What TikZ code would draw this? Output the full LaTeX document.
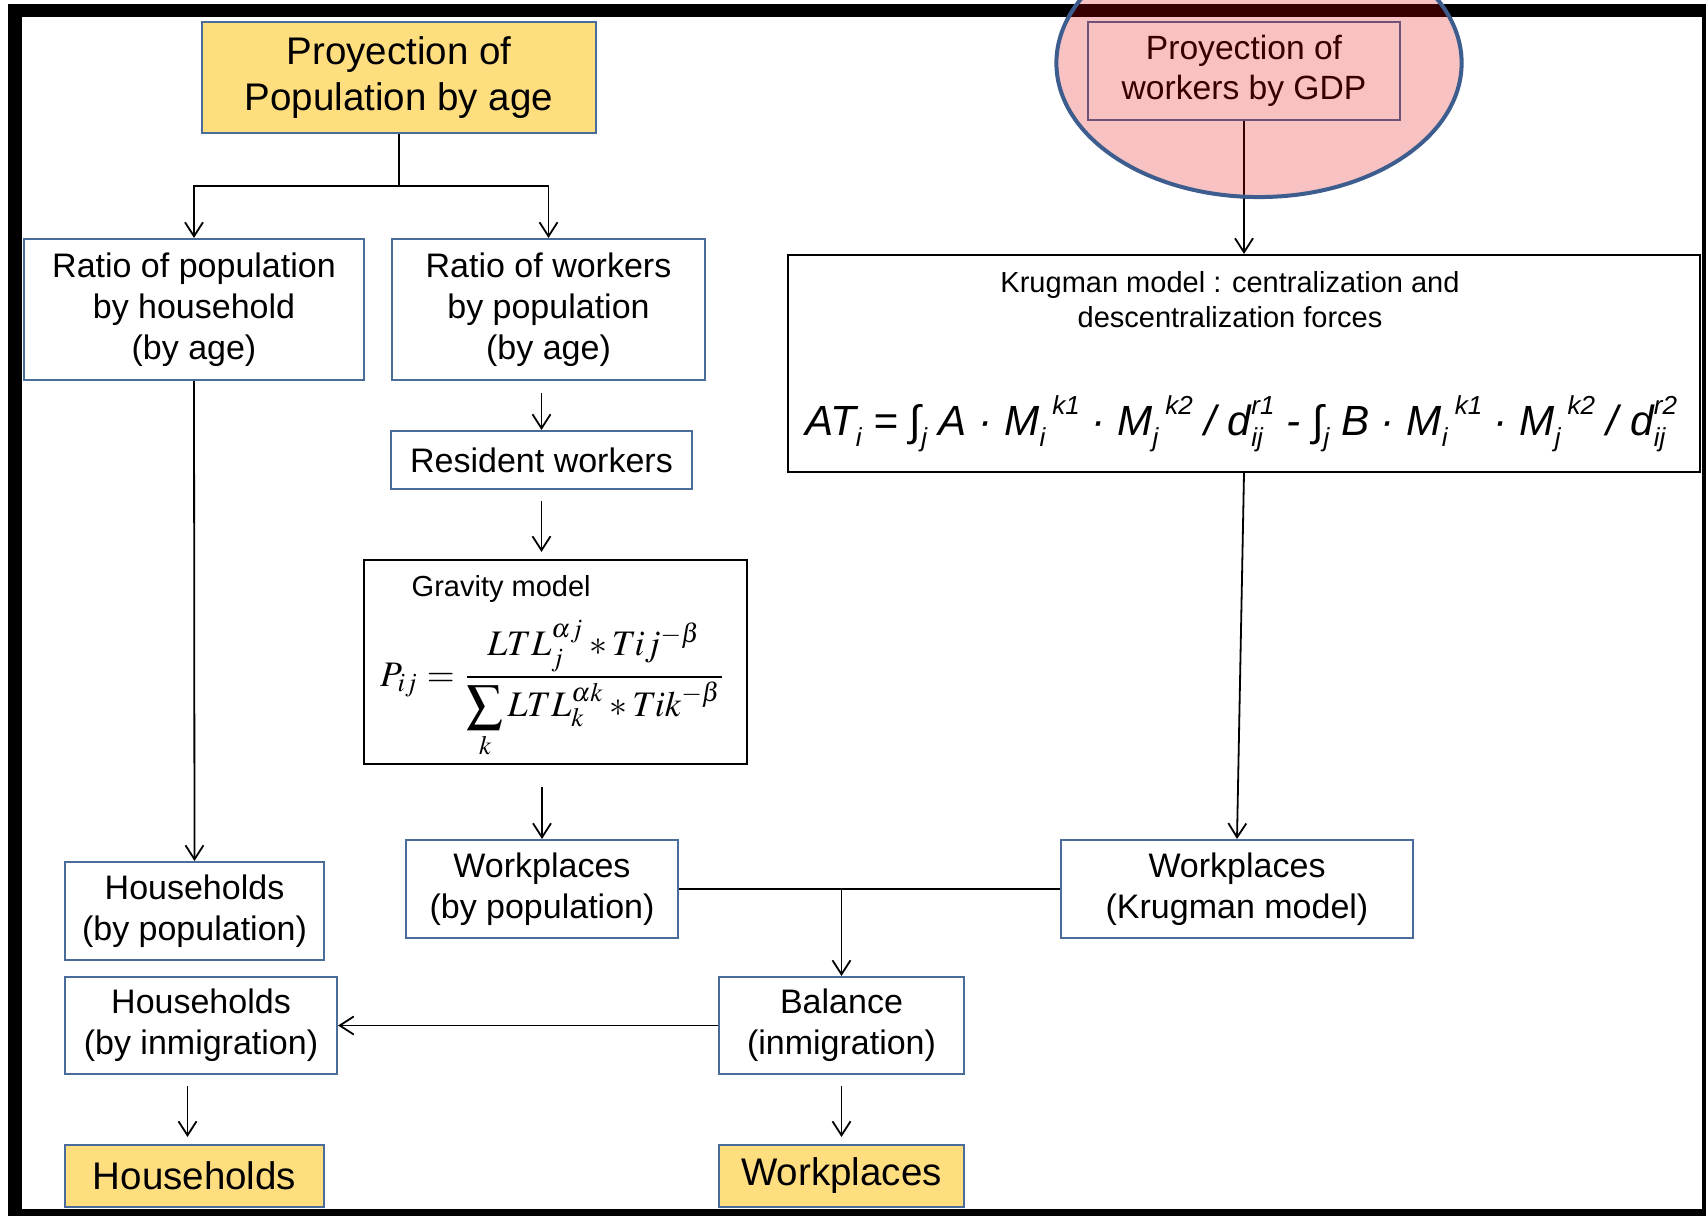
\documentclass[tikz,border=0pt]{standalone}
\usepackage{mathptmx}
\usepackage[no-math]{fontspec}
\setmainfont{Liberation Sans}
\usetikzlibrary{positioning,arrows.meta,shapes.geometric}
\definecolor{boxblue}{HTML}{4A6C9B}
\definecolor{ringblue}{HTML}{3C5D8E}
\definecolor{hlyellow}{HTML}{FFDE80}
\newcommand\ssub[1]{\raisebox{-0.25em}{\fontsize{7.4}{8}\selectfont #1}}
\newcommand\ssup[1]{\raisebox{0.5em}{\fontsize{7.4}{8}\selectfont #1}}
\newcommand\ssubsup[2]{\rlap{\ssub{#1}}\ssup{#2}}
\tikzset{
  dim/.style 2 args = {minimum width=#1mm, minimum height=#2mm},
  box/.style        = {draw=boxblue, line width=0.2mm, fill=white, align=center,
                       inner sep=0pt, font=\fontsize{9.67}{11.67}\selectfont},
  hl/.style         = {box, fill=hlyellow, font=\fontsize{10.95}{13.1}\selectfont},
  model/.style      = {draw=black, line width=0.2mm, inner sep=0pt},
  note/.style       = {inner sep=0pt, align=center, font=\fontsize{8.25}{9.9}\selectfont},
  ring/.style       = {ellipse, draw=ringblue, line width=0.4mm, inner sep=0pt,
                       fill=red!90!black, fill opacity=0.24},
  link/.style       = {line width=0.18mm},
  edge/.style       = {link, -{Straight Barb[length=1.4mm,width=1.8mm]}},
  frame/.style      = {draw=black, line width=1.34mm}
}

\begin{document}
\begin{tikzpicture}[x={(0.01cm,0)}, y={(0,-0.01cm)}]
  \useasboundingbox (0,0) rectangle (1706,1216);
  \clip (0,0) rectangle (1706,1216);
  \fill[white] (0,0) rectangle (1706,1216);
  \draw[frame] (15,10.7) rectangle (1708.7,1215.7);

  % left and middle columns
  \node[hl, dim={39.4}{11.1}]  (popage)    at (399,77.5)   {Proyection of\\Population by age};
  \node[box, dim={34}{14.1}]   (ratiopop)  at (194,309.5)  {Ratio of population\\by household\\(by age)};
  \node[box, dim={31.3}{14.1}] (ratiowork) at (548.5,309.5) {Ratio of workers\\by population\\(by age)};
  \node[box, dim={30.1}{5.8}]  (resident)  at (541.5,460)  {Resident workers};
  \node[model, dim={38.3}{20.4}] (gravity) at (555.5,662)  {};
  \node[note, anchor=west]     (gravtitle) at (411,589)    {Gravity model};
  \node[inner sep=0pt, anchor=base, font=\fontsize{10.2}{12}\selectfont] (gravform) at (553,686)
    {$\displaystyle P_{ij}=\frac{LTL_j^{\alpha j}*Tij^{-\beta}}{\displaystyle\sum_k LTL_k^{\alpha k}*Tik^{-\beta}}$};
  \node[box, dim={27.2}{9.8}]  (wpop)      at (542,889)    {Workplaces\\(by population)};
  \node[box, dim={25.9}{9.8}]  (hhpop)     at (194.5,911)  {Households\\(by population)};
  \node[box, dim={27.2}{9.7}]  (hhinm)     at (201,1025.5) {Households\\(by inmigration)};
  \node[hl, dim={25.9}{6.2}]   (hhfin)     at (194.5,1176) {Households};
  \node[box, dim={24.5}{9.7}]  (balance)   at (841.5,1025.5) {Balance\\(inmigration)};
  \node[hl, dim={24.5}{6.2}]   (wpfin)     at (841.5,1176) {Workplaces};

  % right column
  \node[model, dim={91.2}{21.7}] (krugman) at (1244,363.5) {};
  \node[note] (krugtitle) at (1230,300) {Krugman model : centralization and\\descentralization forces};
  \node[inner sep=0pt, font=\itshape\fontsize{12}{14}\selectfont] (krugform) at (1241,424)
    {AT\ssub{i} = ∫\ssub{j} A · M\ssub{i}\,\ssup{k1} · M\ssub{j}\,\ssup{k2} / d\ssubsup{ij}{r1} - ∫\ssub{j} B · M\ssub{i}\,\ssup{k1} · M\ssub{j}\,\ssup{k2} / d\ssubsup{ij}{r2}};
  \node[box, dim={35.2}{9.8}]  (wkrug)     at (1237,889)   {Workplaces\\(Krugman model)};
  \node[box, fill=none, dim={31.2}{9.8}, font=\fontsize{9.56}{11.4}\selectfont] (gdp) at (1244,71)
    {Proyection of\\workers by GDP};

  \coordinate (split) at (399,186);
  \coordinate (hhin) at ([xshift=-0.7mm]hhfin.north);

  \draw[link] (popage.south) -- (split);
  \draw[edge] (split) -| (ratiopop.north);
  \draw[edge] (split) -| (ratiowork.north);
  \draw[edge, shorten <=1.2mm] (ratiowork.south -| resident.north) -- (resident.north);
  \draw[edge, shorten <=1.1mm, shorten >=0.7mm] (resident.south) -- (resident.south |- gravity.north);
  \draw[edge, shorten <=2.2mm] (gravity.south -| wpop.north) -- (wpop.north);
  \draw[edge] (ratiopop.south) -- (hhpop.north);
  \draw[link] (wpop.east) -- (wkrug.west);
  \draw[edge] (wpop.east -| balance.north) -- (balance.north);
  \draw[edge] (balance.west) -- (hhinm.east);
  \draw[edge, shorten <=1.1mm, shorten >=0.7mm] (hhinm.south -| hhin) -- (hhin);
  \draw[edge, shorten <=1.1mm, shorten >=0.7mm] (balance.south) -- (wpfin.north);
  \draw[edge] (gdp.south) -- (krugman.north);
  \draw[edge] (krugman.south) -- (wkrug.north);

  \node[ring, minimum width=40.5mm, minimum height=26.8mm] (gdpring) at (1259,63) {};
\end{tikzpicture}
\end{document}
